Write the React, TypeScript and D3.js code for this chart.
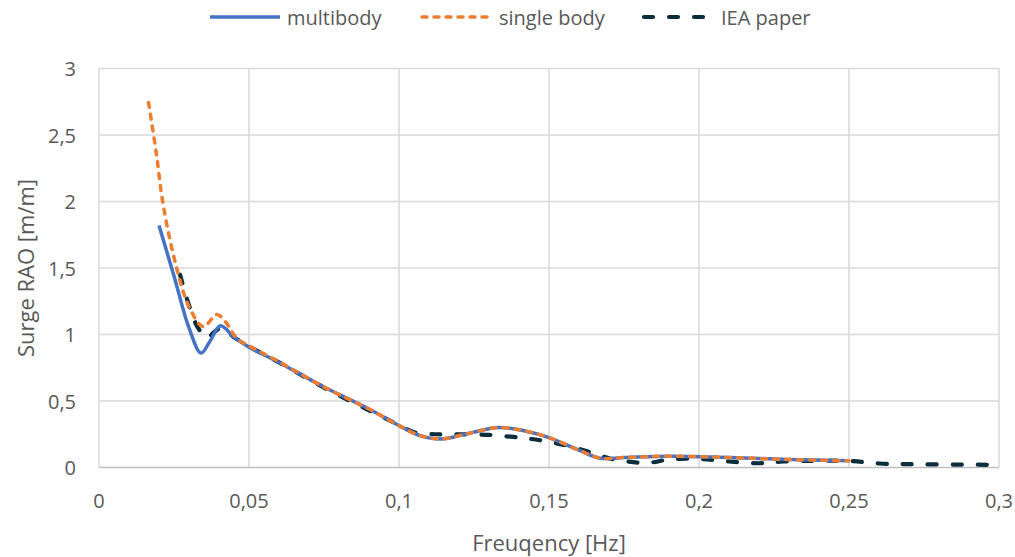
import React from "react";
import * as d3 from "d3";

const multibodyFreq = [0.02, 0.025, 0.03, 0.034, 0.037, 0.0405, 0.045, 0.05, 0.06, 0.075, 0.09, 0.1, 0.107, 0.114, 0.122, 0.133, 0.142, 0.15, 0.16, 0.167, 0.175, 0.19, 0.21, 0.23, 0.25];
const multibodyRAO = [1.82, 1.44, 1.05, 0.86, 0.95, 1.065, 0.98, 0.905, 0.79, 0.605, 0.44, 0.315, 0.24, 0.215, 0.25, 0.3, 0.275, 0.225, 0.13, 0.07, 0.075, 0.085, 0.075, 0.06, 0.05];

const singleFreq = [0.0165, 0.019, 0.0215, 0.026, 0.03, 0.0347, 0.0393, 0.042, 0.046, 0.05, 0.06, 0.075, 0.09, 0.1, 0.107, 0.114, 0.122, 0.133, 0.142, 0.15, 0.16, 0.167, 0.175, 0.19, 0.21, 0.23, 0.25];
const singleRAO = [2.745, 2.38, 1.96, 1.49, 1.21, 1.06, 1.15, 1.1, 0.97, 0.915, 0.795, 0.605, 0.44, 0.315, 0.24, 0.215, 0.25, 0.3, 0.275, 0.225, 0.13, 0.07, 0.075, 0.085, 0.075, 0.06, 0.05];

const ieaFreq = [0.027, 0.03, 0.033, 0.036, 0.0385, 0.041, 0.045, 0.05, 0.06, 0.075, 0.09, 0.1, 0.105, 0.112, 0.12, 0.13, 0.14, 0.147, 0.155, 0.163, 0.17, 0.176, 0.183, 0.19, 0.2, 0.21, 0.22, 0.228, 0.24, 0.25, 0.26, 0.27, 0.3];
const ieaRAO = [1.45, 1.22, 1.05, 0.975, 1.02, 1.05, 0.98, 0.91, 0.79, 0.6, 0.43, 0.32, 0.265, 0.25, 0.25, 0.245, 0.225, 0.205, 0.17, 0.12, 0.07, 0.045, 0.035, 0.06, 0.065, 0.045, 0.032, 0.045, 0.05, 0.05, 0.03, 0.025, 0.02];

const xTicks = [0, 0.05, 0.1, 0.15, 0.2, 0.25, 0.3];
const yTicks = [0, 0.5, 1, 1.5, 2, 2.5, 3];
const seriesNames = ["multibody", "single body", "IEA paper"];

const fmt = (v: number) => String(v).replace(".", ",");

export default function App() {
  const W = 1015, H = 557;
  const x = d3.scaleLinear().domain([0, 0.3]).range([99, 999]);
  const y = d3.scaleLinear().domain([0, 3]).range([467.5, 68.5]);
  const line = d3.line<[number, number]>()
    .x((d) => x(d[0]))
    .y((d) => y(d[1]))
    .curve(d3.curveCatmullRom.alpha(0.5));
  const zip = (a: number[], b: number[]) => a.map((v, i) => [v, b[i]] as [number, number]);

  const series = [
    { name: seriesNames[0], data: zip(multibodyFreq, multibodyRAO), color: "#4472C4", dash: "none", w: 3.5 },
    { name: seriesNames[1], data: zip(singleFreq, singleRAO), color: "#ED7D31", dash: "5,7", w: 3.5 },
    { name: seriesNames[2], data: zip(ieaFreq, ieaRAO), color: "#0B2D3C", dash: "9,16", w: 4.2 },
  ];
  const drawOrder = [2, 0, 1];
  const legendX = [210, 422, 644];
  const font = "'Open Sans', sans-serif";
  const textColor = "#595959";

  return (
    <svg width={W} height={H} style={{ position: "absolute", left: 0, top: 0, background: "#fff" }} fontFamily={font}>
      {xTicks.map((t) => (
        <line key={"gx" + t} x1={x(t)} x2={x(t)} y1={y(3)} y2={y(0)} stroke="#D9D9D9" strokeWidth={1.5} />
      ))}
      {yTicks.map((t) => (
        <line key={"gy" + t} x1={x(0)} x2={x(0.3)} y1={y(t)} y2={y(t)} stroke={t === 0 ? "#BFBFBF" : "#D9D9D9"} strokeWidth={1.5} />
      ))}
      {xTicks.map((t) => (
        <text key={"tx" + t} x={x(t)} y={500} textAnchor="middle" dominantBaseline="central" fontSize={20} fill={textColor}>{fmt(t)}</text>
      ))}
      {yTicks.map((t) => (
        <text key={"ty" + t} x={76} y={y(t)} textAnchor="end" dominantBaseline="central" fontSize={20} fill={textColor}>{fmt(t)}</text>
      ))}
      <text x={(x(0) + x(0.3)) / 2} y={542} textAnchor="middle" dominantBaseline="central" fontSize={22} fill={textColor}>Freuqency [Hz]</text>
      <text transform={`translate(25,268) rotate(-90)`} textAnchor="middle" dominantBaseline="central" fontSize={22} fill={textColor}>Surge RAO [m/m]</text>
      {drawOrder.map((i) => {
        const s = series[i];
        return (
          <path key={s.name} d={line(s.data) || ""} fill="none" stroke={s.color} strokeWidth={s.w}
            strokeDasharray={s.dash} strokeLinecap={s.dash === "none" ? "butt" : "round"} strokeLinejoin="round" />
        );
      })}
      {series.map((s, i) => (
        <g key={"lg" + i}>
          <line x1={legendX[i]} x2={legendX[i] + 70} y1={17} y2={17} stroke={s.color} strokeWidth={s.w}
            strokeDasharray={s.dash} strokeLinecap={s.dash === "none" ? "butt" : "round"} />
          <text x={legendX[i] + 77} y={17} dominantBaseline="central" fontSize={20} fill={textColor}>{s.name}</text>
        </g>
      ))}
    </svg>
  );
}
